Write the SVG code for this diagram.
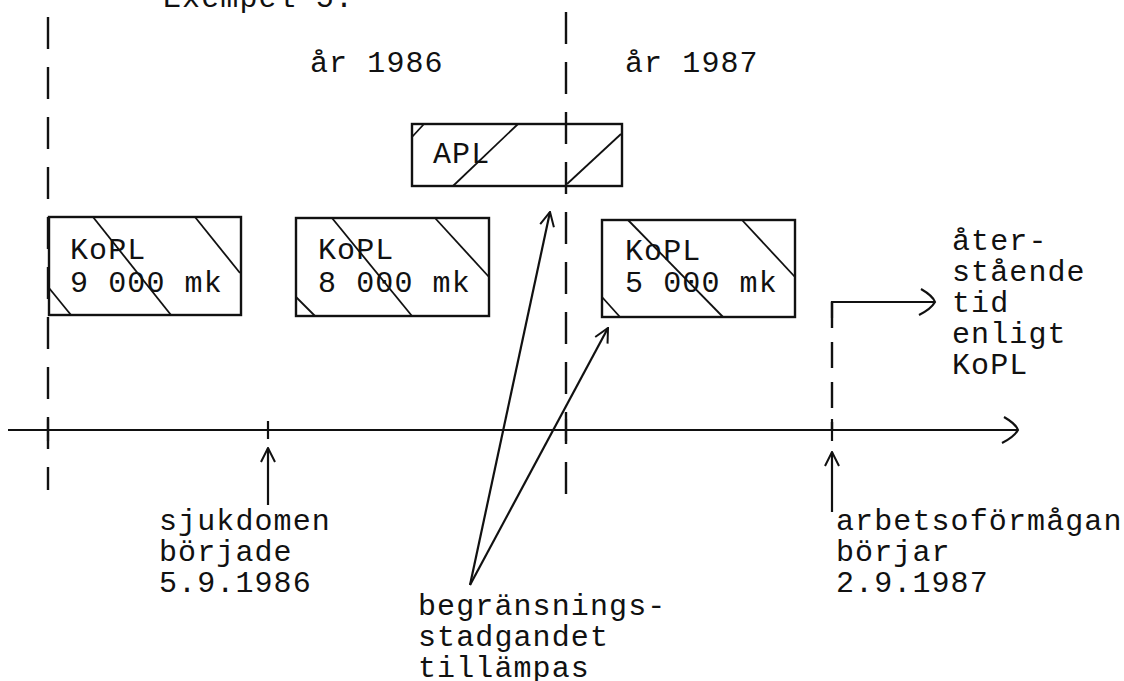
<svg xmlns="http://www.w3.org/2000/svg" width="1124" height="681" viewBox="0 0 1124 681">
<defs>
<style>
.t{font-family:"Liberation Mono","Courier New",monospace;font-size:30px;letter-spacing:1.1px;fill:#111}
.ln{stroke:#111;stroke-width:2.2;fill:none}
.hatch{stroke:#111;stroke-width:1.8;fill:none}
.box{stroke:#111;stroke-width:2.4;fill:none}
.dash{stroke:#111;stroke-width:2.4;fill:none;stroke-dasharray:32 18}
</style>
<marker id="ah" viewBox="0 0 16 16" refX="15" refY="8" markerWidth="16" markerHeight="16" markerUnits="userSpaceOnUse" orient="auto">
<path d="M1,1 L15,8 L1,15" stroke="#111" stroke-width="2" fill="none"/>
</marker>
<marker id="big" viewBox="0 0 24 28" refX="22" refY="14" markerWidth="24" markerHeight="28" markerUnits="userSpaceOnUse" orient="auto">
<path d="M8,1 Q20,8 22,14 Q18,21 6,27" stroke="#111" stroke-width="2.2" fill="none"/>
</marker>
</defs>
<rect width="1124" height="681" fill="#fff"/>

<text class="t" x="163" y="7">Exempel 5.</text>

<g id="grid">
<line class="dash" x1="48" y1="17" x2="48" y2="490"/>
<line class="dash" x1="566" y1="12" x2="566" y2="500"/>
</g>

<g id="labels-years">
<text class="t" x="310" y="72">år 1986</text>
<text class="t" x="625" y="72">år 1987</text>
</g>

<g id="apl">
<rect class="box" x="412" y="124" width="210" height="62"/>
<line class="hatch" x1="412" y1="137" x2="424" y2="124"/>
<line class="hatch" x1="453" y1="186" x2="518" y2="124"/>
<line class="hatch" x1="567" y1="184" x2="621" y2="134"/>
<text class="t" x="433" y="163">APL</text>
</g>

<g id="kopl1">
<rect class="box" x="49" y="217" width="192" height="98"/>
<line class="hatch" x1="93" y1="217" x2="171" y2="315"/>
<line class="hatch" x1="195" y1="217" x2="240" y2="273"/>
<line class="hatch" x1="49" y1="288" x2="71" y2="315"/>
<text class="t" x="70" y="259">KoPL</text>
<text class="t" x="70" y="292">9 000 mk</text>
</g>

<g id="kopl2">
<rect class="box" x="296" y="218" width="193" height="98"/>
<line class="hatch" x1="332" y1="218" x2="412" y2="316"/>
<line class="hatch" x1="435" y1="218" x2="489" y2="277"/>
<line class="hatch" x1="296" y1="297" x2="315" y2="316"/>
<text class="t" x="318" y="259">KoPL</text>
<text class="t" x="318" y="292">8 000 mk</text>
</g>

<g id="kopl3">
<rect class="box" x="602" y="220" width="193" height="97"/>
<line class="hatch" x1="628" y1="220" x2="723" y2="317"/>
<line class="hatch" x1="742" y1="220" x2="795" y2="277"/>
<line class="hatch" x1="602" y1="297" x2="620" y2="317"/>
<text class="t" x="625" y="260">KoPL</text>
<text class="t" x="625" y="292">5 000 mk</text>
</g>

<g id="connectors">
<line class="ln" x1="8" y1="430" x2="1018" y2="430" marker-end="url(#big)"/>
<line class="ln" x1="268" y1="421" x2="268" y2="439"/>
<line class="ln" x1="48" y1="419" x2="48" y2="441"/>
<line class="ln" x1="566" y1="419" x2="566" y2="441"/>
<line class="ln" x1="832" y1="419" x2="832" y2="441"/>
<line class="dash" x1="832" y1="302" x2="832" y2="430" style="stroke-dasharray:26 14"/>
<polyline class="ln" points="832,318 832,302 935,302" marker-end="url(#big)"/>
<line class="ln" x1="268" y1="505" x2="268" y2="448" marker-end="url(#ah)"/>
<line class="ln" x1="832" y1="512" x2="832" y2="452" marker-end="url(#ah)"/>
<line class="ln" x1="470" y1="585" x2="550" y2="212" marker-end="url(#ah)"/>
<line class="ln" x1="470" y1="585" x2="608" y2="328" marker-end="url(#ah)"/>
</g>

<g id="lbl-rest">
<text class="t" x="952" y="250">åter-</text>
<text class="t" x="952" y="281">stående</text>
<text class="t" x="952" y="312">tid</text>
<text class="t" x="952" y="343">enligt</text>
<text class="t" x="952" y="374">KoPL</text>
</g>

<g id="lbl-sjuk">
<text class="t" x="159" y="530">sjukdomen</text>
<text class="t" x="159" y="561">började</text>
<text class="t" x="159" y="592">5.9.1986</text>
</g>

<g id="lbl-begr">
<text class="t" x="418" y="615">begränsnings-</text>
<text class="t" x="418" y="646">stadgandet</text>
<text class="t" x="418" y="677">tillämpas</text>
</g>

<g id="lbl-arb">
<text class="t" x="836" y="530">arbetsoförmågan</text>
<text class="t" x="836" y="561">börjar</text>
<text class="t" x="836" y="592">2.9.1987</text>
</g>
</svg>
